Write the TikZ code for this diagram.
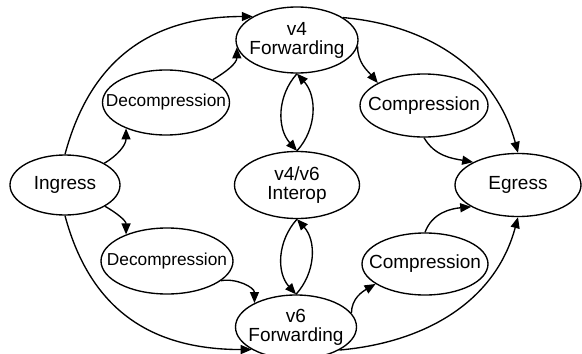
\documentclass[tikz,border=0pt]{standalone}
\usepackage{fontspec}
\setmainfont{Liberation Sans}
\usetikzlibrary{arrows.meta, shapes.geometric}

\tikzset{
	state/.style={draw, ellipse, line width=1.35pt, inner sep=0pt},
	txt/.style={align=center, font=\fontsize{19pt}{19pt}\selectfont},
	smalltxt/.style={align=center, font=\fontsize{17.3pt}{17.3pt}\selectfont},
	flow/.style={line width=1.35pt, -{Triangle[length=11pt,width=9pt]}}
}

\begin{document}
\begin{tikzpicture}[x=1pt, y=1pt]
		
		\useasboundingbox (0,0) rectangle (582,-354);
		
		% States
		\node[state, minimum width=110pt, minimum height=60pt, label={[txt]center:Ingress}] (ingress) at (65,-185) {};
		\node[state, minimum width=127pt, minimum height=65pt, label={[smalltxt]center:Decompression}] (dectop) at (166,-102.5) {};
		\node[state, minimum width=132pt, minimum height=66pt, label={[smalltxt]center:Decompression}] (decbot) at (167,-261) {};
		\node[state, minimum width=122pt, minimum height=66pt, label={[txt]center:v4\\Forwarding}] (v4) at (297,-40) {};
		\node[state, minimum width=125pt, minimum height=67pt, label={[txt]center:v4/v6\\Interop}] (interop) at (297,-185) {};
		\node[state, minimum width=121pt, minimum height=64pt, label={[txt]center:v6\\Forwarding}] (v6) at (296,-327) {};
		\node[state, minimum width=128pt, minimum height=63pt, label={[txt]center:Compression}] (comptop) at (424,-105.5) {};
		\node[state, minimum width=126pt, minimum height=62pt, label={[txt]center:Compression}] (compbot) at (425,-264) {};
		\node[state, minimum width=126pt, minimum height=63pt, label={[txt]center:Egress}] (egress) at (518,-185) {};
		
		% Upper paths
		\draw[flow] (ingress.north) to[out=75, in=180, looseness=1.1] (v4.152);
		\draw[flow] (ingress.29) to[out=30, in=270] (dectop.213);
		\draw[flow] (dectop.26) to[out=30, in=270] (v4.187);
		\draw[flow] (v4.-6) to[out=270, in=130] (comptop.154);
		\draw[flow] (v4.26) to[out=-5, in=105] (egress.north);
		\draw[flow] (comptop.south) to[out=-60, in=170] (egress.153);
		
		% Interop
		\draw[flow] (v4.south) to[out=228, in=132] (interop.north);
		\draw[flow] (interop.north) to[out=48, in=-48] (v4.south);
		\draw[flow] (interop.south) to[out=228, in=132] (v6.north);
		\draw[flow] (v6.north) to[out=48, in=-48] (interop.south);
		
		% Lower paths
		\draw[flow] (ingress.south) to[out=-75, in=180, looseness=1.1] (v6.207);
		\draw[flow] (ingress.-28) to[out=-30, in=90] (decbot.147);
		\draw[flow] (decbot.-20) to[out=10, in=90] (v6.150);
		\draw[flow] (v6.14) to[out=90, in=210] (compbot.202);
		\draw[flow] (compbot.north) to[out=70, in=185] (egress.205);
		\draw[flow] (v6.-28) to[out=5, in=255] (egress.south);
		
	\end{tikzpicture}
\end{document}
